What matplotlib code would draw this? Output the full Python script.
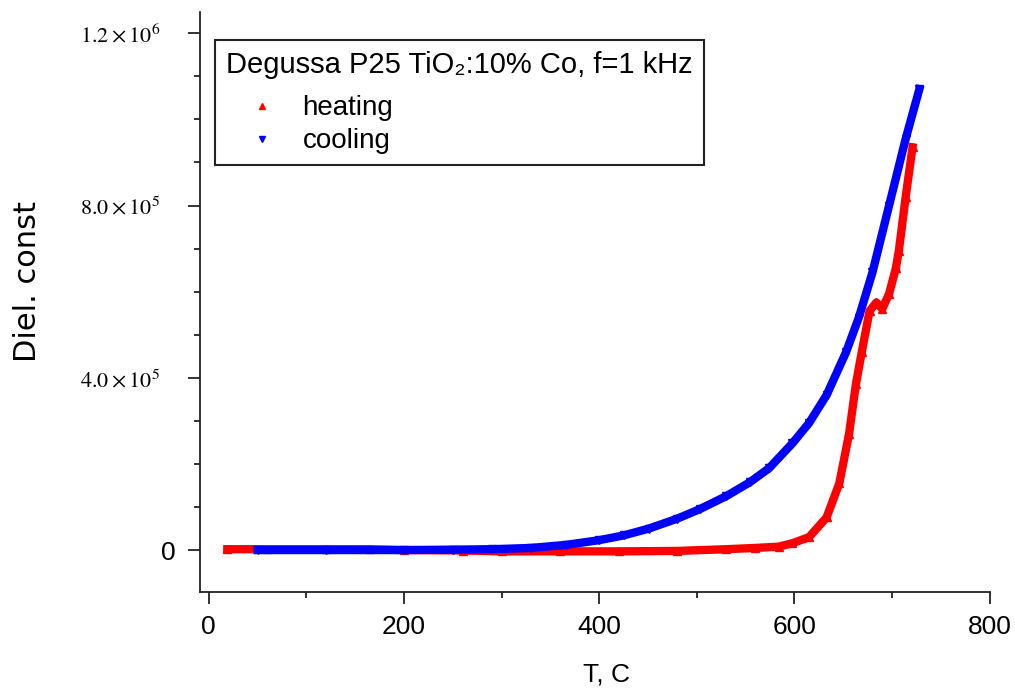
import matplotlib as mpl
mpl.use('Agg')
import matplotlib.pyplot as plt
from matplotlib.lines import Line2D
from matplotlib.ticker import MultipleLocator

# heating run (T in C, dielectric constant)
heat_t = [19, 60, 120, 165, 200, 260, 300, 360, 420, 480, 530, 560, 584, 598, 615,
          633, 646, 656, 663, 669, 677, 684, 690, 697, 704, 707, 714, 721]
heat_y = [2e3, 2e3, 2e3, 2e3, 0, -1e3, -3e3, -3e3, -3e3, -2e3, 2e3, 5e3, 8e3, 1.6e4, 3e4,
          7.6e4, 1.55e5, 2.7e5, 3.85e5, 4.6e5, 5.55e5, 5.75e5, 5.6e5, 5.95e5, 6.55e5, 6.95e5,
          8.2e5, 9.35e5]

# cooling run
cool_t = [728, 714, 697, 680, 666, 653, 633, 615, 598, 574, 554, 530, 503, 480, 451,
          425, 400, 366, 330, 290, 250, 200, 120, 50]
cool_y = [1.07e6, 9.55e5, 8.0e5, 6.45e5, 5.4e5, 4.6e5, 3.6e5, 2.95e5, 2.48e5, 1.9e5, 1.57e5,
          1.25e5, 9.5e4, 7.3e4, 5.0e4, 3.4e4, 2.3e4, 1.2e4, 5e3, 2e3, 1e3, 0, 0, 0]

x_ticks = [0, 200, 400, 600, 800]
y_ticks = [0, 4e5, 8e5, 1.2e6]
y_tick_labels = ['0', r'$4.0\times10^{5}$', r'$8.0\times10^{5}$', r'$1.2\times10^{6}$']

sans = ['Liberation Sans', 'DejaVu Sans']

fig = plt.figure(figsize=(10.15, 6.89), dpi=100)
ax = fig.add_axes([0.197, 0.141, 0.778, 0.842])

ax.plot(heat_t, heat_y, color='red', lw=6, marker='^', ms=6, solid_joinstyle='round')
ax.plot(cool_t, cool_y, color='blue', lw=6, marker='v', ms=6, solid_joinstyle='round')

ax.set_xlim(-9, 800)
ax.set_ylim(-9.7e4, 1.25e6)

ax.spines['top'].set_visible(False)
ax.spines['right'].set_visible(False)
for s in ['left', 'bottom']:
    ax.spines[s].set_linewidth(1.3)
    ax.spines[s].set_color('#222222')

ax.set_xticks(x_ticks)
ax.xaxis.set_minor_locator(MultipleLocator(100))
ax.set_yticks(y_ticks)
ax.yaxis.set_minor_locator(MultipleLocator(1e5))
ax.set_yticklabels(y_tick_labels)
ax.tick_params(which='major', direction='out', length=8.5, width=1.3, color='#222222')
ax.tick_params(which='minor', direction='out', length=4.5, width=1.3, color='#222222')
ax.tick_params(axis='y', pad=9)
ax.tick_params(axis='x', pad=8)

# serif labels sit further from the axis than the "0"
for tk in ax.yaxis.get_major_ticks()[1:]:
    tk.set_pad(20)

for lab in ax.get_xticklabels():
    lab.set_family(sans)
    lab.set_fontsize(19)
for lab in ax.get_yticklabels():
    if lab.get_text() == '0':
        lab.set_family(sans)
        lab.set_fontsize(19)
    else:
        lab.set_math_fontfamily('stix')
        lab.set_fontsize(16)

ax.set_xlabel('T, C', family=sans, fontsize=19)
ax.xaxis.set_label_coords(0.515, -0.121)
ax.set_ylabel('Diel. const', family=['DejaVu Sans'], fontsize=22)
ax.yaxis.set_label_coords(-0.2, 0.535)

handles = [Line2D([], [], ls='none', marker='^', color='red', ms=5),
           Line2D([], [], ls='none', marker='v', color='blue', ms=5)]
leg = ax.legend(handles, ['heating', 'cooling'], loc='upper left',
                bbox_to_anchor=(0.019, 0.952), borderaxespad=0,
                title='Degussa P25 TiO\u2082:10% Co, f=1 kHz',
                prop={'family': sans, 'size': 20}, fancybox=False,
                edgecolor='#222222', framealpha=1, borderpad=0.4,
                labelspacing=0.25, handlelength=2.6, handletextpad=0.15)
leg.get_title().set_family(sans)
leg.get_title().set_fontsize(21)
leg.get_frame().set_linewidth(1.5)
leg._legend_box.align = 'left'
leg._legend_box.sep = 12  # a bit more room under the title

fig.savefig('out.png', dpi=100)
